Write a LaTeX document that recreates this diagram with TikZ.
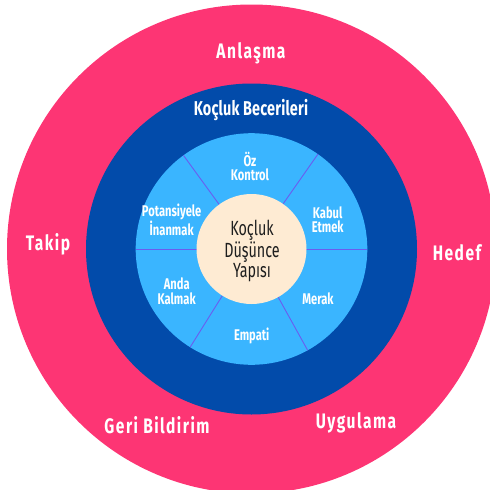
\documentclass[tikz,border=0pt]{standalone}
\usepackage{fontspec}
\setmainfont{Fira Sans}
\newfontfamily\outerf{Fira Sans}[FakeStretch=0.74,LetterSpace=7]
\newfontfamily\ringf{Fira Sans}[FakeStretch=0.72,LetterSpace=1]
\newfontfamily\innerf{Fira Sans}[FakeStretch=0.72]
\newfontfamily\centerf{Fira Sans}[FakeStretch=0.7]
\definecolor{pinkc}{HTML}{FD3574}
\definecolor{darkb}{HTML}{024BAA}
\definecolor{lightb}{HTML}{3AB5FF}
\definecolor{creamc}{HTML}{FEEBD3}
\definecolor{divc}{HTML}{6A5CF0}
\definecolor{txtc}{HTML}{1E1E1E}
\tikzset{
  outerlab/.style={text=white,font=\outerf\bfseries\fontsize{21}{24}\selectfont,inner sep=0pt},
  ringlab/.style={text=white,font=\ringf\bfseries\fontsize{20}{24}\selectfont,inner sep=0pt},
  innerlab/.style={text=white,font=\innerf\bfseries\fontsize{15.5}{14.5}\selectfont,align=center,inner sep=0pt},
  centerlab/.style={text=txtc,font=\centerf\fontsize{20.5}{17.5}\selectfont,align=center,inner sep=0pt},
  divider/.style={draw=divc,line width=0.9pt}
}
\begin{document}
\begin{tikzpicture}[x=1pt,y=-1pt]
\useasboundingbox (0,0) rectangle (490,490);
\clip (0,0) rectangle (490,490);
\coordinate (c) at (251.5,249);
\fill[pinkc] (c) circle[radius=244.5];
\fill[darkb] (c) circle[radius=165.5];
\fill[lightb] (c) circle[radius=115.8];
\foreach \a in {0,-55,-126,-180,-238,-299}{
  \draw[divider] (c) -- ++(\a:115.8);
}
\fill[creamc] (c) circle[radius=55];
% outer ring labels
\node[outerlab] (anlasma) at (251,53) {Anlaşma};
\node[outerlab] (takip) at (48,244) {Takip};
\node[outerlab] (hedef) at (457,253) {Hedef};
\node[outerlab] (geri) at (157,425) {Geri Bildirim};
\node[outerlab] (uyg) at (356,423) {Uygulama};
% dark ring label
\node[ringlab] (beceri) at (251,110) {Koçluk Becerileri};
% inner labels
\node[innerlab] (oz) at (250,166.5) {Öz\\Kontrol};
\node[innerlab] (pot) at (171.7,219.5) {Potansiyele\\İnanmak};
\node[innerlab] (kabul) at (327.7,219.5) {Kabul\\Etmek};
\node[innerlab] (anda) at (176.7,291) {Anda\\Kalmak};
\node[innerlab] (merak) at (318,299) {Merak};
\node[innerlab] (empati) at (251.7,336) {Empati};
% center
\node[centerlab] (merkez) at (252,251) {Koçluk\\Düşünce\\Yapısı};
\end{tikzpicture}
\end{document}
